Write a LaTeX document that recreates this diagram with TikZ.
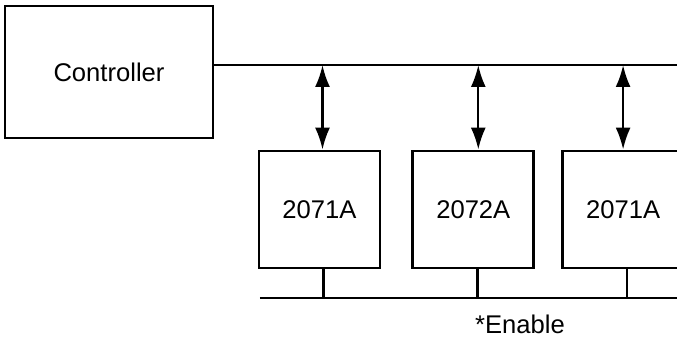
\documentclass[tikz,border=0pt]{standalone}
\usepackage{fontspec}
\setmainfont{Liberation Sans}
\usetikzlibrary{positioning,arrows.meta}

\begin{document}
\begin{tikzpicture}[
  x=0.5pt, y=-0.5pt,
  node distance=8mm and 15pt,
  unit/.style={rectangle, draw, line width=1.4pt, minimum width=60.5pt, minimum height=58.5pt, font=\fontsize{12.8}{15}\selectfont},
  ctrl/.style={unit, minimum width=104pt, minimum height=66pt},
  arr/.style={{Latex[length=11pt,width=7.5pt]}-{Latex[length=11pt,width=7.5pt]}, line width=1.2pt},
  wire/.style={line width=1.3pt}
]
\clip (0,0) rectangle (677,337);
\node[ctrl] (ctrl) at (109,72) {Controller};
\node[unit] (m1) at (319.5,209.5) {2071A};
\node[unit, right=of m1] (m2) {2072A};
\node[unit, right=13pt of m2] (m3) {2071A};
% data bus
\coordinate (busL) at ([yshift=3.5pt]ctrl.east);
\coordinate (busR) at (677,65);
\draw[wire] (busL) -- (busR);
\draw[arr] ([xshift=1.5pt]m1.north) -- ([xshift=1.5pt]m1.north |- busL);
\draw[arr] ([xshift=2.5pt]m2.north) -- ([xshift=2.5pt]m2.north |- busL);
\draw[arr] (m3.north) -- (m3.north |- busL);
% enable line
\coordinate (enL) at (260,298);
\coordinate (enR) at (677,298);
\draw[wire] (enL) -- (enR);
\foreach \m in {m1,m2,m3}
  \draw[wire] ([xshift=2pt]\m.south) -- ([xshift=2pt]\m.south |- enL);
\node[font=\fontsize{12.8}{15}\selectfont] (en) at (520,324) {*Enable};
\end{tikzpicture}
\end{document}
